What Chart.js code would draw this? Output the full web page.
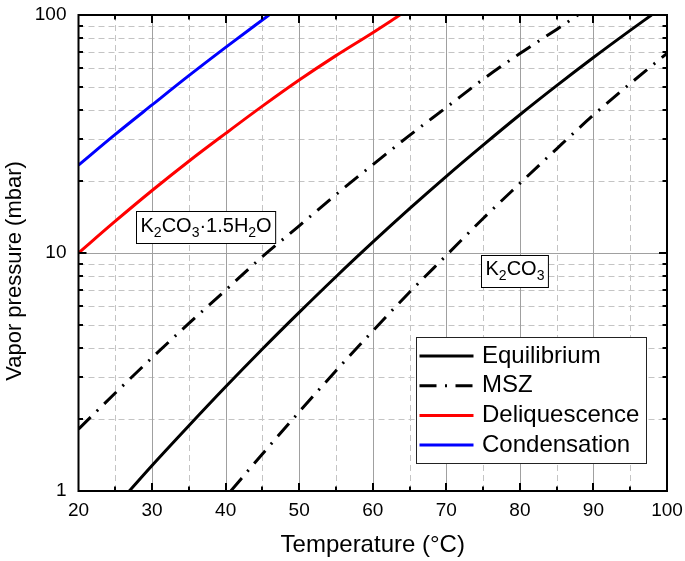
<!DOCTYPE html>
<html>
<head>
<meta charset="utf-8">
<title>K2CO3 vapor pressure</title>
<script src="https://cdn.jsdelivr.net/npm/chart.js@4.4.1/dist/chart.umd.min.js"></script>
<style>
  html, body { margin: 0; padding: 0; background: #fff; }
  canvas { display: block; }
</style>
</head>
<body>
<canvas id="chart" width="685" height="561"></canvas>
<script>
"use strict";

// temperature (°C) / vapor pressure (mbar) for each curve
const eqT = [26.9, 30, 35, 40, 45, 50, 55, 60, 65, 70, 75, 80, 85, 90, 95, 97.9];
const eqP = [1.00, 1.28, 1.88, 2.74, 3.95, 5.63, 7.95, 11.1, 15.35, 21.0, 28.4, 38.1, 50.5, 66.3, 86.2, 100];

const mszHighT = [20, 25, 30, 35, 40, 45, 50, 55, 60, 65, 70, 75, 80, 85, 87.9];
const mszHighP = [1.82, 2.58, 3.63, 5.06, 6.98, 9.66, 13.0, 17.6, 23.5, 31.2, 40.9, 53.7, 68.9, 87.0, 100];

const mszLowT = [40.7, 45, 50, 55, 60, 65, 70, 75, 80, 85, 90, 95, 100];
const mszLowP = [1.00, 1.43, 2.15, 3.20, 4.70, 6.84, 9.77, 13.96, 19.6, 27.4, 38.0, 51.5, 69.0];

const deliqT = [20, 25, 30, 35, 40, 45, 50, 55, 60, 63.7];
const deliqP = [10.0, 13.6, 18.3, 24.3, 31.8, 41.4, 53.3, 67.5, 84.3, 100];

const condT = [20, 25, 30, 35, 40, 45.9];
const condP = [23.4, 31.5, 41.9, 55.6, 73.1, 100];

// axis ticks and grid
const yTickValues = [1, 10, 100];
const xMajor = [30, 40, 50, 60, 70, 80, 90];
const xMinor = [25, 35, 45, 55, 65, 75, 85, 95];
const yMajor = [10];
const yMinor = [2, 3, 4, 5, 6, 7, 8, 9, 20, 30, 40, 50, 60, 70, 80, 90];

// phase labels: [text, subscript?]
const hydrateLabel = [["K", 0], ["2", 1], ["CO", 0], ["3", 1], ["\u00B71.5H", 0], ["2", 1], ["O", 0]];
const hydrateAt = { x: 37.3, y: 12.8 };
const anhydrousLabel = [["K", 0], ["2", 1], ["CO", 0], ["3", 1]];
const anhydrousAt = { x: 79.3, y: 8.42 };

const FONT = "'Liberation Sans', Arial, Helvetica, sans-serif";
Chart.defaults.font.family = FONT;
Chart.defaults.color = "#000";

const MSZ_DASH = [17, 8.5, 2, 8.5];

function series(label, T, P, color, dash, inLegend) {
    return {
        label: label,
        data: T.map(function (t, i) { return { x: t, y: P[i] }; }),
        borderColor: color,
        borderWidth: 3,
        borderDash: dash,
        borderCapStyle: "butt",
        pointRadius: 0,
        showLine: true,
        fill: false,
        cubicInterpolationMode: "monotone",
        inLegend: inLegend
    };
}

function chemWidth(ctx, parts) {
    let w = 0;
    parts.forEach(function (p) {
        ctx.font = (p[1] ? "14px " : "20px ") + FONT;
        w += ctx.measureText(p[0]).width;
    });
    return w;
}

function drawChemBox(ctx, parts, cx, cy) {
    const w = chemWidth(ctx, parts) + 8;
    const h = 32;
    const left = Math.round(cx - w / 2) + 0.5;
    const top = Math.round(cy - h / 2) + 0.5;
    ctx.fillStyle = "#fff";
    ctx.fillRect(left, top, w, h);
    ctx.strokeStyle = "#000";
    ctx.lineWidth = 1;
    ctx.setLineDash([]);
    ctx.strokeRect(left, top, w, h);

    let x = left + 4;
    const base = cy + 4.2;
    ctx.fillStyle = "#000";
    ctx.textAlign = "left";
    ctx.textBaseline = "alphabetic";
    parts.forEach(function (p) {
        ctx.font = (p[1] ? "14px " : "20px ") + FONT;
        ctx.fillText(p[0], x, p[1] ? base + 5 : base);
        x += ctx.measureText(p[0]).width;
    });
}

const gridAndFrame = {
    id: "gridAndFrame",
    beforeDatasetsDraw: function (chart) {
        const ctx = chart.ctx, a = chart.chartArea;
        const xs = chart.scales.x, ys = chart.scales.y;
        ctx.save();
        ctx.lineWidth = 1;

        ctx.strokeStyle = "#c4c4c4";
        ctx.setLineDash([6, 4]);
        xMinor.forEach(function (v) {
            const px = Math.round(xs.getPixelForValue(v)) + 0.5;
            ctx.beginPath(); ctx.moveTo(px, a.top); ctx.lineTo(px, a.bottom); ctx.stroke();
        });
        yMinor.forEach(function (v) {
            const py = Math.round(ys.getPixelForValue(v)) + 0.5;
            ctx.beginPath(); ctx.moveTo(a.left, py); ctx.lineTo(a.right, py); ctx.stroke();
        });

        ctx.strokeStyle = "#a0a0a0";
        ctx.setLineDash([]);
        xMajor.forEach(function (v) {
            const px = Math.round(xs.getPixelForValue(v)) + 0.5;
            ctx.beginPath(); ctx.moveTo(px, a.top); ctx.lineTo(px, a.bottom); ctx.stroke();
        });
        yMajor.forEach(function (v) {
            const py = Math.round(ys.getPixelForValue(v)) + 0.5;
            ctx.beginPath(); ctx.moveTo(a.left, py); ctx.lineTo(a.right, py); ctx.stroke();
        });
        ctx.restore();
    },
    afterDatasetsDraw: function (chart) {
        const ctx = chart.ctx, a = chart.chartArea;
        const xs = chart.scales.x, ys = chart.scales.y;
        ctx.save();

        // phase labels
        drawChemBox(ctx, hydrateLabel, xs.getPixelForValue(hydrateAt.x), ys.getPixelForValue(hydrateAt.y));
        drawChemBox(ctx, anhydrousLabel, xs.getPixelForValue(anhydrousAt.x), ys.getPixelForValue(anhydrousAt.y));

        // legend box, lower right
        const lw = 230, lh = 126;
        const ll = Math.round(a.right - 21 - lw) + 0.5;
        const lt = Math.round(a.bottom - 28 - lh) + 0.5;
        ctx.fillStyle = "#fff";
        ctx.fillRect(ll, lt, lw, lh);
        ctx.strokeStyle = "#222";
        ctx.lineWidth = 1;
        ctx.setLineDash([]);
        ctx.strokeRect(ll, lt, lw, lh);

        const entries = chart.data.datasets.filter(function (d) { return d.inLegend; });
        entries.forEach(function (d, i) {
            const ry = lt + 18.5 + i * 29.7;
            ctx.strokeStyle = d.borderColor;
            ctx.lineWidth = 3;
            ctx.lineCap = "butt";
            ctx.setLineDash(d.borderDash || []);
            ctx.beginPath(); ctx.moveTo(ll + 3, ry); ctx.lineTo(ll + 57, ry); ctx.stroke();
            ctx.fillStyle = "#000";
            ctx.font = "24px " + FONT;
            ctx.textAlign = "left";
            ctx.textBaseline = "middle";
            ctx.fillText(d.label, ll + 65.5, ry);
        });

        // frame with inward ticks on all four sides
        ctx.setLineDash([]);
        ctx.strokeStyle = "#000";
        ctx.lineWidth = 2;
        ctx.strokeRect(a.left, a.top, a.right - a.left, a.bottom - a.top);

        function xTick(v, len) {
            const px = Math.round(xs.getPixelForValue(v));
            ctx.beginPath();
            ctx.moveTo(px, a.bottom); ctx.lineTo(px, a.bottom - len);
            ctx.moveTo(px, a.top); ctx.lineTo(px, a.top + len);
            ctx.stroke();
        }
        function yTick(v, len) {
            const py = Math.round(ys.getPixelForValue(v));
            ctx.beginPath();
            ctx.moveTo(a.left, py); ctx.lineTo(a.left + len, py);
            ctx.moveTo(a.right, py); ctx.lineTo(a.right - len, py);
            ctx.stroke();
        }
        xMajor.forEach(function (v) { xTick(v, 8); });
        xMinor.forEach(function (v) { xTick(v, 4.5); });
        yMajor.forEach(function (v) { yTick(v, 8); });
        yMinor.forEach(function (v) { yTick(v, 4.5); });

        // y axis title
        ctx.translate(15, 271);
        ctx.rotate(-Math.PI / 2);
        ctx.fillStyle = "#000";
        ctx.font = "22px " + FONT;
        ctx.textAlign = "center";
        ctx.textBaseline = "middle";
        ctx.fillText("Vapor pressure (mbar)", 0, 0);
        ctx.restore();
    }
};

new Chart(document.getElementById("chart"), {
    type: "scatter",
    data: {
        datasets: [
            series("Equilibrium", eqT, eqP, "#000000", [], true),
            series("MSZ", mszHighT, mszHighP, "#000000", MSZ_DASH, true),
            series("MSZ", mszLowT, mszLowP, "#000000", MSZ_DASH, false),
            series("Deliquescence", deliqT, deliqP, "#ff0000", [], true),
            series("Condensation", condT, condP, "#0000ff", [], true)
        ]
    },
    options: {
        responsive: false,
        animation: false,
        devicePixelRatio: 1,
        layout: { padding: { top: 15, right: 18, bottom: 0, left: 0 } },
        plugins: {
            legend: { display: false },
            tooltip: { enabled: false }
        },
        scales: {
            x: {
                type: "linear",
                min: 20,
                max: 100,
                ticks: { stepSize: 10, padding: 8, maxRotation: 0, font: { size: 19 }, color: "#000" },
                grid: { display: false, drawTicks: false },
                border: { display: false },
                title: {
                    display: true,
                    text: "Temperature (\u00B0C)",
                    font: { size: 24 },
                    color: "#000",
                    padding: { top: 0, bottom: 1 }
                },
                afterFit: function (s) {
                    s.height = 70;
                    s.paddingLeft = 0;
                    s.paddingRight = 0;
                }
            },
            y: {
                type: "logarithmic",
                min: 1,
                max: 100,
                afterBuildTicks: function (s) {
                    s.ticks = yTickValues.map(function (v) { return { value: v }; });
                },
                ticks: {
                    padding: 12,
                    font: { size: 19 },
                    color: "#000",
                    callback: function (v) { return String(v); }
                },
                grid: { display: false, drawTicks: false },
                border: { display: false },
                afterFit: function (s) {
                    s.width = 78.5;
                    s.paddingTop = 0;
                    s.paddingBottom = 0;
                }
            }
        }
    },
    plugins: [gridAndFrame]
});
</script>
</body>
</html>
